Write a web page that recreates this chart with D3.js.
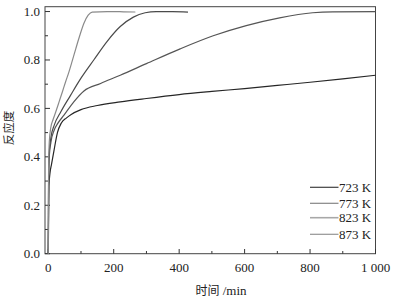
<!DOCTYPE html>
<html><head><meta charset="utf-8">
<script src="https://cdn.jsdelivr.net/npm/d3@7"></script>
<style>body{margin:0;background:#fff}svg{display:block}</style>
</head><body>
<script>
const seriesNames = ["723 K", "773 K", "823 K", "873 K"];
const t723 = [0, 1, 2, 5, 10, 18, 28, 40, 55, 70, 100, 150, 220, 300, 400, 500, 600, 700, 800, 900, 1000];
const v723 = [0, 0.15, 0.28, 0.33, 0.37, 0.43, 0.5, 0.54, 0.56, 0.575, 0.595, 0.612, 0.627, 0.641, 0.657, 0.67, 0.682, 0.695, 0.708, 0.722, 0.737];
const t773 = [0, 1, 3, 8, 18, 30, 48, 78, 109, 160, 220, 300, 403, 504, 605, 707, 808, 870, 1000];
const v773 = [0, 0.3, 0.4, 0.46, 0.51, 0.54, 0.572, 0.627, 0.672, 0.703, 0.737, 0.785, 0.846, 0.9, 0.942, 0.974, 0.995, 0.999, 1.0];
const t823 = [0, 1, 3, 8, 18, 38, 68, 99, 139, 180, 220, 260, 296, 330, 380, 427];
const v823 = [0, 0.3, 0.42, 0.48, 0.53, 0.585, 0.654, 0.723, 0.8, 0.877, 0.938, 0.977, 0.995, 1.0, 1.0, 0.998];
const t873 = [0, 0.5, 1, 3, 7.6, 15, 23, 33, 43, 53, 63, 73, 84, 96, 109, 122, 134, 180, 230, 266];
const v873 = [0, 0.2, 0.35, 0.46, 0.52, 0.555, 0.586, 0.627, 0.668, 0.71, 0.75, 0.795, 0.846, 0.9, 0.952, 0.985, 0.998, 1.0, 0.999, 0.998];
const xTicks = [0, 200, 400, 600, 800, 1000];
const xTickLabels = ["0", "200", "400", "600", "800", "1 000"];
const yTicks = [0, 0.2, 0.4, 0.6, 0.8, 1.0];
const xLabel = "时间 /min";
const yLabel = "反应度";

const curveColors = ["#262626", "#555555", "#4a4a4a", "#8a8a8a"];
const legendColors = ["#404040", "#858585", "#a8a8a8", "#959595"];

const W = 394, H = 299;
const svg = d3.select("body").append("svg").attr("width", W).attr("height", H);
const x = d3.scaleLinear().domain([-10, 1000]).range([45, 375.5]);
const y = d3.scaleLinear().domain([0, 1.02]).range([253.7, 6.7]);
const serif = "'Liberation Serif','Times New Roman',serif";
const cjk = "'Noto Sans CJK SC','Noto Sans CJK JP',sans-serif";

// frame
svg.append("rect").attr("x", 45).attr("y", 6.7).attr("width", 330.5).attr("height", 247)
  .attr("fill", "none").attr("stroke", "#444").attr("stroke-width", 1);

// x axis ticks (inward)
const xAll = d3.range(0, 1001, 100);
svg.append("g").selectAll("line").data(xAll).join("line")
  .attr("x1", d => x(d)).attr("x2", d => x(d))
  .attr("y1", 253.7).attr("y2", d => d % 200 === 0 ? 249 : 251)
  .attr("stroke", "#333");
svg.append("g").selectAll("text").data(xTicks).join("text")
  .attr("x", d => x(d)).attr("y", 271.5).attr("text-anchor", "middle")
  .attr("font-family", serif).attr("font-size", 13).attr("fill", "#222")
  .text((d, i) => xTickLabels[i]);

// y axis ticks (inward)
const yAll = d3.range(0, 11).map(i => i / 10);
svg.append("g").selectAll("line").data(yAll).join("line")
  .attr("x1", 45).attr("x2", (d, i) => i % 2 === 0 ? 50 : 48)
  .attr("y1", d => y(d)).attr("y2", d => y(d))
  .attr("stroke", "#333");
svg.append("g").selectAll("text").data(yTicks).join("text")
  .attr("x", 40).attr("y", d => y(d) + 4.5).attr("text-anchor", "end")
  .attr("font-family", serif).attr("font-size", 13).attr("fill", "#222")
  .text(d => d.toFixed(1));

// curves
const data = [[t723, v723], [t773, v773], [t823, v823], [t873, v873]];
const line = d3.line().x(d => x(d[0])).y(d => y(d[1])).curve(d3.curveMonotoneX);
data.forEach((s, i) => {
  const pts = s[0].map((t, j) => [t, s[1][j]]);
  svg.append("path").datum(pts).attr("d", line)
    .attr("fill", "none").attr("stroke", curveColors[i]).attr("stroke-width", 1.2);
});

// legend
const ly = [187.3, 203.3, 217.7, 234.3];
seriesNames.forEach((n, i) => {
  svg.append("line").attr("x1", 310).attr("x2", 338.5).attr("y1", ly[i]).attr("y2", ly[i])
    .attr("stroke", legendColors[i]).attr("stroke-width", i === 2 ? 1.6 : 1.2);
  svg.append("text").attr("x", 339).attr("y", ly[i] + 4.5)
    .attr("font-family", serif).attr("font-size", 13).attr("fill", "#222").text(n);
});

// axis titles
svg.append("text").attr("x", 221).attr("y", 295).attr("text-anchor", "middle")
  .attr("font-size", 12).attr("fill", "#222")
  .html(`<tspan font-family="${cjk}">时间</tspan><tspan font-family="${serif}" font-size="13"> /min</tspan>`);
svg.append("text").attr("transform", "translate(13,128) rotate(-90)").attr("text-anchor", "middle")
  .attr("font-family", cjk).attr("font-size", 11.5).attr("fill", "#222").text(yLabel);
</script>
</body></html>
